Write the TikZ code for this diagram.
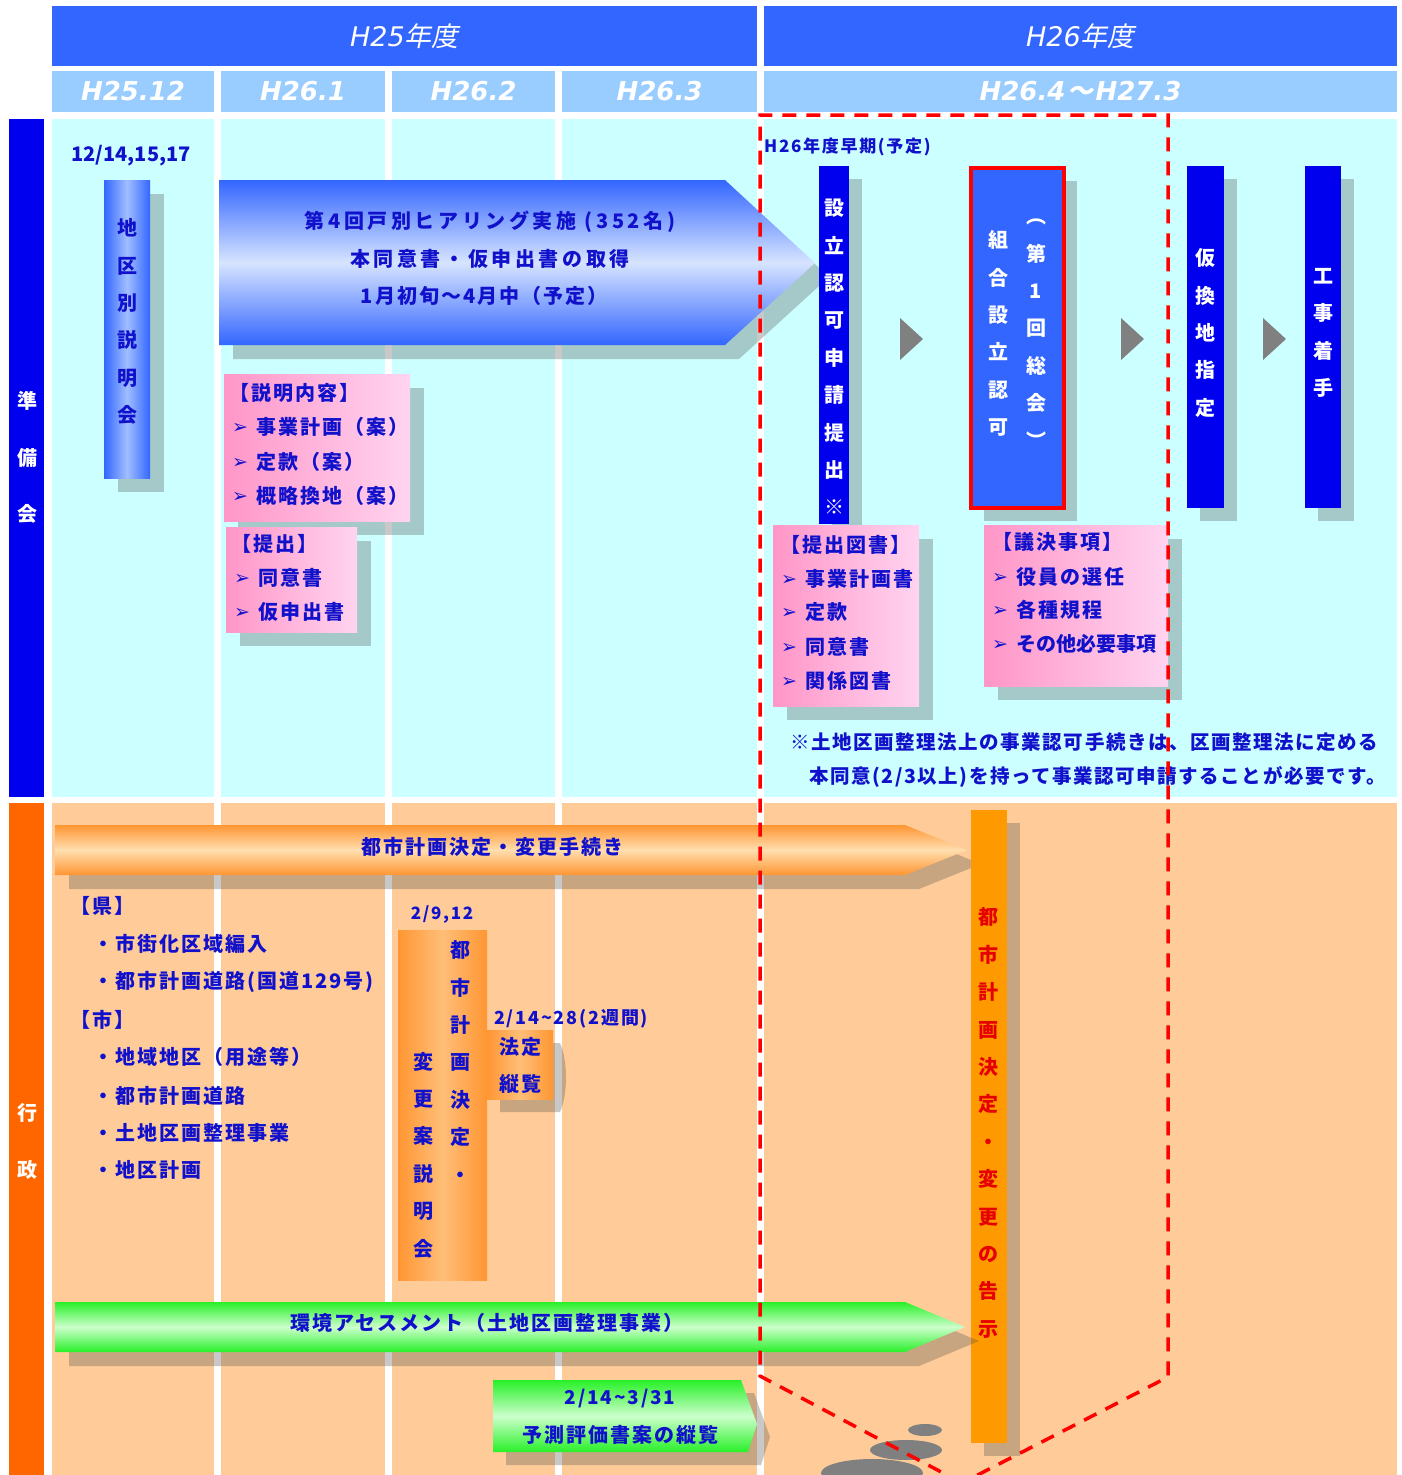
\documentclass[tikz,border=0pt]{standalone}
\usepackage{fontspec}
\setmainfont{Noto Sans CJK JP}
\newfontfamily\jp{Noto Sans CJK JP}[LetterSpace=10]
\newfontfamily\jpn{Noto Sans CJK JP}[LetterSpace=8]
\newfontfamily\jpw{Noto Sans CJK JP}[LetterSpace=18]
\newfontfamily\jpv{Noto Sans CJK JP}
\newfontfamily\jpsl{Noto Sans CJK JP}[FakeSlant=0.2]
\newfontfamily\lat{DejaVu Sans}
\usetikzlibrary{shadows}
\definecolor{hdr}{RGB}{51,102,255}
\definecolor{subc}{RGB}{153,204,255}
\definecolor{cyanbg}{RGB}{204,255,255}
\definecolor{orbg}{RGB}{255,204,153}
\definecolor{dblue}{RGB}{0,0,238}
\definecolor{tblue}{RGB}{17,17,204}
\definecolor{sideor}{RGB}{255,102,0}
\definecolor{baror}{RGB}{255,153,0}
\definecolor{pinkA}{RGB}{255,150,200}
\definecolor{pinkB}{RGB}{255,212,240}
\definecolor{blueA}{RGB}{51,102,255}
\definecolor{blueB}{RGB}{215,228,255}
\definecolor{blueL}{RGB}{160,190,255}
\definecolor{orA}{RGB}{255,150,50}
\definecolor{orB}{RGB}{255,222,175}
\definecolor{orM}{RGB}{255,190,120}
\definecolor{grA}{RGB}{40,240,40}
\definecolor{grB}{RGB}{204,255,204}
\definecolor{trigray}{RGB}{128,128,128}
\definecolor{redtxt}{RGB}{230,0,0}
\newcommand{\itm}{\makebox[24pt][l]{\raisebox{1pt}{\lat\fontsize{19}{19}\selectfont ➢}}}
\tikzset{
  rbox/.style={inner sep=0pt,outer sep=0pt},
  shd/.style={drop shadow={shadow xshift=14pt,shadow yshift=-14pt,fill=black!70,opacity=0.3}},
  shdb/.style={drop shadow={shadow xshift=13pt,shadow yshift=-13pt,fill=black!70,opacity=0.3}},
  vt/.style={inner sep=0pt,align=center,text=tblue,font=\jpv\bfseries\fontsize{20}{37.4}\selectfont},
  vtw/.style={vt,text=white},
  htx/.style={inner sep=0pt,text=tblue,font=\jp\bfseries\fontsize{20}{24}\selectfont},
  htsm/.style={htx,font=\jp\bfseries\fontsize{17}{20}\selectfont},
  listtxt/.style={htx,anchor=west},
  notetxt/.style={htx,anchor=west,font=\jpn\bfseries\fontsize{19.5}{24}\selectfont},
  subhd/.style={rbox,fill=subc,minimum height=41pt,text=white,font=\lat\bfseries\itshape\fontsize{26}{30}\selectfont},
  yearhd/.style={rbox,fill=hdr,minimum height=60pt,text=white,font=\lat\itshape\fontsize{27}{30}\selectfont},
  arrtri/.style={fill=trigray},
}
\begin{document}
\begin{tikzpicture}[x=1pt,y=-1pt]
\clip (0,0) rectangle (1401,1475);
\fill[white] (0,0) rectangle (1401,1475);

% ---- header rows
\node[yearhd,minimum width=705pt] (y25) at (404.5,36) {H25{\jpsl 年度}};
\node[yearhd,minimum width=633pt] (y26) at (1080.5,36) {H26{\jpsl 年度}};
\node[subhd,minimum width=162pt] (m12) at (133,91.5) {H25.12};
\node[subhd,minimum width=164pt] (m1) at (303,91.5) {H26.1};
\node[subhd,minimum width=163pt] (m2) at (473.5,91.5) {H26.2};
\node[subhd,minimum width=195pt] (m3) at (659.5,91.5) {H26.3};
\node[subhd,minimum width=633pt] (m4) at (1080.5,91.5) {H26.4\hspace{2pt}{\jpsl ～}\hspace{2pt}H27.3};

% ---- column backgrounds
\foreach \a/\b in {52/214,221/385,392/555,562/757,764/1397} {
  \fill[cyanbg] (\a,119) rectangle (\b,797);
  \fill[orbg] (\a,803) rectangle (\b,1480);
}

% ---- side bars
\node[rbox,fill=dblue,minimum width=35pt,minimum height=678pt] (junbi) at (26.5,458) {};
\node[vtw,font=\jpv\bfseries\fontsize{20}{56.5}\selectfont] (junbit) at (27,457.5) {準\\備\\会};
\node[rbox,fill=sideor,minimum width=35pt,minimum height=677pt] (gyosei) at (26.5,1141.5) {};
\node[vtw,font=\jpv\bfseries\fontsize{20}{57}\selectfont] (gyoseit) at (27,1141.5) {行\\政};

% ---- upper section
\node[htx,font=\jpv\bfseries\fontsize{20}{24}\selectfont] (d1214) at (131,156) {12/14,15,17};
\node[rbox,shd,left color=blueA,right color=blueA,middle color=blueL,minimum width=46pt,minimum height=298pt] (chiku) at (127,329) {};
\node[vt] (chikut) at (127,321.5) {地\\区\\別\\説\\明\\会};

\path[shd,top color=blueA,bottom color=blueA,middle color=blueB]
  (219,180) -- (725,180) -- (815,263) -- (725,345) -- (219,345) -- cycle;
\node[htx,font=\jpw\bfseries\fontsize{20}{24}\selectfont] (hear1) at (490,222) {第4回戸別ヒアリング実施 (352名)};
\node[htx,font=\jpw\bfseries\fontsize{20}{24}\selectfont] (hear2) at (490,259) {本同意書・仮申出書の取得};
\node[htx,font=\jp\bfseries\fontsize{20}{24}\selectfont] (hear3) at (484,296) {1月初旬～4月中（予定）};

\node[rbox,shd,left color=pinkA,right color=pinkB,minimum width=186pt,minimum height=147pt] (setsumei) at (317,447.5) {};
\node[listtxt] (s0) at (229,393) {【説明内容】};
\node[listtxt] (s1) at (232,427) {\itm 事業計画（案）};
\node[listtxt] (s2) at (232,462) {\itm 定款（案）};
\node[listtxt] (s3) at (232,496) {\itm 概略換地（案）};

\node[rbox,shd,left color=pinkA,right color=pinkB,minimum width=131pt,minimum height=105pt] (teishutsu) at (291.5,579.5) {};
\node[listtxt] (t0) at (231,544) {【提出】};
\node[listtxt] (t1) at (234,578) {\itm 同意書};
\node[listtxt] (t2) at (234,612) {\itm 仮申出書};

\node[htsm,anchor=west] (soki) at (764,147) {H26年度早期(予定)};
\node[rbox,shdb,fill=dblue,minimum width=30pt,minimum height=358pt] (setsu) at (834,345) {};
\node[vtw] (setsut) at (834,357) {設\\立\\認\\可\\申\\請\\提\\出\\※};

\node[rbox,shdb,fill=blueA,draw=red,line width=4pt,minimum width=93pt,minimum height=340pt] (kumiai) at (1017.5,338) {};
\node[vtw] (kumiai1) at (998,333.5) {組\\合\\設\\立\\認\\可};
\node[vtw] (kumiai2) at (1036,333.5) {︵\\第\\1\\回\\総\\会\\︶};

\node[rbox,shdb,fill=dblue,minimum width=37pt,minimum height=342pt] (karikan) at (1205.5,337) {};
\node[vtw] (karikant) at (1205,333) {仮\\換\\地\\指\\定};
\node[rbox,shdb,fill=dblue,minimum width=36pt,minimum height=342pt] (koji) at (1323,337) {};
\node[vtw] (kojit) at (1323,333) {工\\事\\着\\手};

\fill[arrtri] (900,318) -- (923,339) -- (900,360) -- cycle;
\fill[arrtri] (1121,318) -- (1144,339) -- (1121,360) -- cycle;
\fill[arrtri] (1263,318) -- (1286,339) -- (1263,360) -- cycle;

\node[rbox,shd,left color=pinkA,right color=pinkB,minimum width=146pt,minimum height=181pt] (tosho) at (846,615.5) {};
\node[listtxt] (p0) at (780,545) {【提出図書】};
\node[listtxt] (p1) at (781,579) {\itm 事業計画書};
\node[listtxt] (p2) at (781,612) {\itm 定款};
\node[listtxt] (p3) at (781,647) {\itm 同意書};
\node[listtxt] (p4) at (781,681) {\itm 関係図書};

\node[rbox,shd,left color=pinkA,right color=pinkB,minimum width=184pt,minimum height=161pt] (giketsu) at (1076,605.5) {};
\node[listtxt] (g0) at (992,542) {【議決事項】};
\node[listtxt] (g1) at (992,577) {\itm 役員の選任};
\node[listtxt] (g2) at (992,610) {\itm 各種規程};
\node[listtxt,font=\jpv\bfseries\fontsize{20}{24}\selectfont] (g3) at (992,644) {\itm その他必要事項};

\node[notetxt] (note1) at (790,742) {※土地区画整理法上の事業認可手続きは、区画整理法に定める};
\node[notetxt] (note2) at (809,777) {本同意(2/3以上)を持って事業認可申請することが必要です。};

% ---- lower section
\path[shd,top color=orA,bottom color=orA,middle color=orB]
  (55,825) -- (905,825) -- (967,850) -- (905,875) -- (55,875) -- cycle;
\node[htx] (toshikei) at (492,847) {都市計画決定・変更手続き};

\node[listtxt] (ken) at (70,906) {【県】};
\node[listtxt] (k1) at (93,944) {・市街化区域編入};
\node[listtxt] (k2) at (93,982) {・都市計画道路(国道129号)};
\node[listtxt] (shi) at (70,1020) {【市】};
\node[listtxt] (c1) at (93,1057) {・地域地区（用途等）};
\node[listtxt] (c2) at (93,1096) {・都市計画道路};
\node[listtxt] (c3) at (93,1133) {・土地区画整理事業};
\node[listtxt] (c4) at (93,1170) {・地区計画};

\node[htsm] (d29) at (442,915) {2/9,12};
\node[rbox,left color=orA,right color=orA,middle color=orM,minimum width=89pt,minimum height=350pt] (henko) at (442.5,1105) {};
\node[vt] (henko1) at (460,1061.5) {都\\市\\計\\画\\決\\定\\・};
\node[vt] (henko2) at (423,1155) {変\\更\\案\\説\\明\\会};

\node[htsm,anchor=west,font=\jp\bfseries\fontsize{18}{20}\selectfont] (d214) at (494,1019) {2/14\textasciitilde 28(2週間)};
\fill[black!70,opacity=0.3] (500,1043) -- (560,1043) .. controls (568,1060) and (568,1095) .. (560,1112) -- (500,1112) -- cycle;
\node[rbox,left color=orA,right color=orA,middle color=orM,minimum width=66pt,minimum height=69pt] (hotei) at (520,1064.5) {};
\node[vt,font=\jp\bfseries\fontsize{20}{37}\selectfont] (hoteit) at (520,1065.5) {法定\\縦覧};

\node[rbox,shdb,fill=baror,minimum width=36pt,minimum height=633pt] (kokuji) at (989,1126.5) {};
\node[vt,text=redtxt] (kokujit) at (988,1123) {都\\市\\計\\画\\決\\定\\・\\変\\更\\の\\告\\示};

\path[shd,top color=grA,bottom color=grA,middle color=grB]
  (55,1302) -- (905,1302) -- (965,1327) -- (905,1352) -- (55,1352) -- cycle;
\node[htx] (asess) at (487,1323) {環境アセスメント（土地区画整理事業）};

\path[shdb,top color=grA,bottom color=grA,middle color=grB]
  (493,1380) -- (741,1380) -- (757,1424) -- (748,1452) -- (493,1452) -- cycle;
\node[htsm,font=\jp\bfseries\fontsize{19}{22}\selectfont] (d314) at (620,1398) {2/14\textasciitilde 3/31};
\node[htx] (yosoku) at (620,1435) {予測評価書案の縦覧};

% ---- thought bubbles
\fill[trigray] (925,1430) ellipse [x radius=17, y radius=6];
\fill[trigray] (906,1450) ellipse [x radius=36, y radius=10];
\fill[trigray] (872,1473) ellipse [x radius=51, y radius=14];

% ---- red dashed outline
\draw[red,line width=3.5pt,dash pattern=on 14pt off 10pt]
  (962,1483) -- (760,1376) -- (760,115) -- (1168,115) -- (1168,1377) -- cycle;
\end{tikzpicture}
\end{document}
